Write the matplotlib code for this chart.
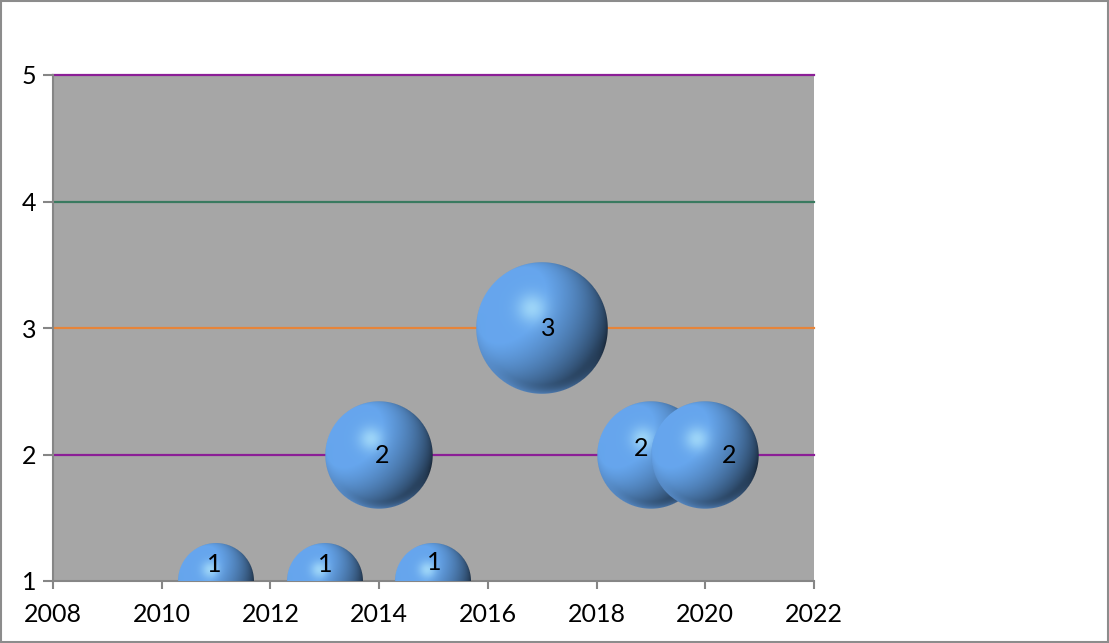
import numpy as np
import matplotlib
matplotlib.use("Agg")
import matplotlib.pyplot as plt
from matplotlib.patches import Rectangle

# ---- data ----
years = [2011, 2013, 2014, 2015, 2017, 2019, 2020]
values = [1, 1, 2, 1, 3, 2, 2]
sizes = [1, 1, 2, 1, 3, 2, 2]
labels = ["1", "1", "2", "1", "3", "2", "2"]
x_ticks = [2008, 2010, 2012, 2014, 2016, 2018, 2020, 2022]
y_ticks = [1, 2, 3, 4, 5]
grid_levels = [2, 3, 4, 5]

# ---- styles ----
grid_colors = ["#8B1E96", "#E6843A", "#3A7A60", "#8B1E96"]
label_offsets_px = [(-2, 17), (0, 17), (3, -1), (1, 19), (6, 0), (-10, 6), (24, -1)]
R_MAX_FRAC = 0.13  # bubble radius (of plot height) for largest bubble
FS = 18

plt.rcParams['font.family'] = ['Lato', 'DejaVu Sans']

W, H = 1109, 643
fig = plt.figure(figsize=(W / 100, H / 100), dpi=100)
L, R, T, B = 53, 814, 75, 581
ax = fig.add_axes([L / W, 1 - B / H, (R - L) / W, (B - T) / H])
ax.set_facecolor("#A6A6A6")
ax.set_xlim(2008, 2022)
ax.set_ylim(1, 5)

for lvl, c in zip(grid_levels, grid_colors):
    ax.axhline(lvl, color=c, lw=1.6, zorder=1, clip_on=False)

for s in ["top", "right"]:
    ax.spines[s].set_visible(False)
for s in ["left", "bottom"]:
    ax.spines[s].set_color("#868686")
    ax.spines[s].set_linewidth(1.5)
ax.set_xticks(x_ticks)
ax.set_yticks(y_ticks)
ax.tick_params(axis="x", length=6, width=1.5, color="#868686", labelsize=FS, pad=10, direction="out")
ax.tick_params(axis="y", length=7, width=1.5, color="#868686", labelsize=FS, pad=5, direction="out")

# border of figure
fig.patches.append(Rectangle((0.001, 0.001), 0.998, 0.997, transform=fig.transFigure,
                             fill=False, edgecolor="#8C8C8C", lw=1.5))


def sphere_rgba(rpx):
    n = int(np.ceil(rpx)) * 2 + 2
    c = (n - 1) / 2.0
    yy, xx = np.mgrid[0:n, 0:n]
    u = (xx - c) / rpx
    v = -(yy - c) / rpx
    d2 = u ** 2 + v ** 2
    d = np.sqrt(d2)
    nz = np.sqrt(np.clip(1 - d2, 0, 1))
    Lv = np.array([-0.6, 0.45, 0.66])
    Lv = Lv / np.linalg.norm(Lv)
    dot = u * Lv[0] + v * Lv[1] + nz * Lv[2]
    I = np.clip(0.58 + 0.55 * dot, 0.08, 1)[..., None]
    base = np.array([0.40, 0.65, 0.93])
    col = base * I
    # soft highlight
    spec = np.exp(-((u + 0.15) ** 2 + (v - 0.3) ** 2) / 0.05)[..., None]
    col = col * (1 - 0.6 * spec) + np.array([0.75, 0.95, 1.0]) * 0.6 * spec
    # bottom rim reflection
    dd = np.maximum(d, 1e-6)
    rim = (np.clip((d - 0.85) / 0.15, 0, 1) ** 1.5 * np.clip((-v - 0.25 * u) / dd, 0, 1))[..., None]
    col = col * (1 - 0.7 * rim) + np.array([0.38, 0.60, 0.86]) * 0.7 * rim
    col = np.clip(col, 0, 1)
    alpha = np.clip((1 - d) * rpx + 0.5, 0, 1)
    return np.dstack([col, alpha])


fig.canvas.draw()
plot_h = (B - T)
r_max = R_MAX_FRAC * plot_h
smax = max(sizes)
inv = ax.transData.inverted()
order = np.argsort([-s for s in sizes], kind="stable")
for z, i in enumerate(order):
    x, y, s = years[i], values[i], sizes[i]
    rpx = r_max * np.sqrt(s / smax)
    cx, cy = ax.transData.transform((x, y))
    img = sphere_rgba(rpx)
    n = img.shape[0]
    (x0, y0) = inv.transform((cx - n / 2, cy - n / 2))
    (x1, y1) = inv.transform((cx + n / 2, cy + n / 2))
    ax.imshow(img, extent=[x0, x1, y0, y1], origin="upper", interpolation="bilinear",
              zorder=3 + z * 0.01, aspect="auto")

for i in range(len(years)):
    dx, dy = label_offsets_px[i]
    ax.annotate(labels[i], (years[i], values[i]), xytext=(dx * 0.72, dy * 0.72),
                textcoords="offset points", ha="center", va="center", fontsize=FS,
                color="black", zorder=5)

ax.set_xlim(2008, 2022)
ax.set_ylim(1, 5)
fig.savefig("out.png", dpi=100)
